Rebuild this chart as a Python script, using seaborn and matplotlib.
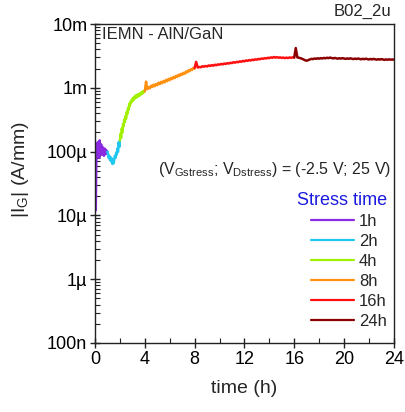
import numpy as np
import pandas as pd
import seaborn as sns
import matplotlib.pyplot as plt
from matplotlib.ticker import LogLocator, NullFormatter, FixedLocator

# =============== DADOS ===============
stress_labels = ["1h", "2h", "4h", "8h", "16h", "24h"]
stress_colors = ["#8a2be2", "#20c8f0", "#a0f000", "#ff9010", "#ff1010", "#8b0000"]

# tempos de amostragem (h)
t_1h = np.linspace(0.06, 1, 25)
t_2h = np.linspace(1, 2, 21)
t_4h = np.linspace(2, 4, 41)
t_8h = np.linspace(4, 8, 41)
t_16h = np.linspace(8, 16, 65)
t_24h = np.linspace(16, 24, 65)

# corrente de grille |IG| (A/mm)
ig_1h = np.array([12, 60, 115, 85, 140, 95, 125, 80, 150, 100, 88, 130, 105, 92, 118,
                  90, 104, 86, 112, 95, 108, 92, 104, 96, 100]) * 1e-6
ig_2h = np.array([100, 90, 80, 86, 74, 82, 70, 78, 64, 72, 66, 76, 86, 80, 96, 90, 112,
                  100, 140, 118, 150]) * 1e-6
ig_4h = np.array([150, 190, 165, 230, 200, 270, 250, 320, 290, 360, 330, 420, 390, 480,
                  450, 560, 520, 610, 580, 650, 620, 690, 640, 720, 680, 750, 700, 770,
                  720, 790, 740, 800, 760, 830, 790, 860, 810, 880, 840, 900, 880]) * 1e-6
ig_8h = np.array([0.88, 1.25, 0.95, 1.02, 0.98, 1.08, 1.03, 1.12, 1.06, 1.15, 1.10, 1.20,
                  1.14, 1.24, 1.18, 1.28, 1.22, 1.33, 1.27, 1.38, 1.32, 1.43, 1.37, 1.48,
                  1.42, 1.54, 1.48, 1.60, 1.54, 1.66, 1.60, 1.72, 1.66, 1.80, 1.74, 1.88,
                  1.82, 1.96, 1.90, 2.05, 2.00]) * 1e-3
ig_16h = np.array([2.05, 2.55, 2.08, 2.12, 2.10, 2.18, 2.14, 2.20, 2.16, 2.24, 2.20, 2.27,
                   2.22, 2.30, 2.26, 2.33, 2.30, 2.37, 2.33, 2.40, 2.36, 2.44, 2.40, 2.47,
                   2.44, 2.52, 2.48, 2.55, 2.52, 2.60, 2.56, 2.64, 2.60, 2.68, 2.65, 2.72,
                   2.68, 2.76, 2.72, 2.80, 2.76, 2.84, 2.80, 2.88, 2.85, 2.92, 2.88, 2.96,
                   2.92, 3.00, 2.96, 3.04, 2.98, 3.02, 2.96, 3.00, 2.94, 2.98, 2.92, 2.97,
                   2.93, 2.99, 2.95, 3.00, 2.98]) * 1e-3
ig_24h = np.array([3.00, 4.20, 3.00, 2.96, 2.92, 2.85, 2.78, 2.70, 2.66, 2.72, 2.78, 2.84,
                   2.82, 2.88, 2.85, 2.90, 2.86, 2.92, 2.88, 2.94, 2.90, 2.96, 2.92, 2.98,
                   2.93, 2.89, 2.94, 2.90, 2.86, 2.91, 2.87, 2.92, 2.88, 2.84, 2.89, 2.85,
                   2.90, 2.86, 2.82, 2.87, 2.83, 2.88, 2.84, 2.80, 2.85, 2.81, 2.86, 2.82,
                   2.78, 2.83, 2.79, 2.84, 2.80, 2.76, 2.81, 2.77, 2.82, 2.78, 2.74, 2.79,
                   2.75, 2.80, 2.76, 2.78, 2.76]) * 1e-3

y_ticks = [1e-7, 1e-6, 1e-5, 1e-4, 1e-3, 1e-2]
y_ticklabels = ["100n", "1µ", "10µ", "100µ", "1m", "10m"]
x_ticks = [0, 4, 8, 12, 16, 20, 24]

# =============== MONTAGEM ===============
frames = []
for lab, t, v in zip(stress_labels, [t_1h, t_2h, t_4h, t_8h, t_16h, t_24h],
                     [ig_1h, ig_2h, ig_4h, ig_8h, ig_16h, ig_24h]):
    frames.append(pd.DataFrame({"time": t, "ig": v, "stress": lab}))
df = pd.concat(frames, ignore_index=True)

sns.set_theme(style="ticks")
plt.rcParams["font.family"] = ["Liberation Sans", "DejaVu Sans"]
plt.rcParams["mathtext.fontset"] = "custom"
plt.rcParams["mathtext.rm"] = "Liberation Sans"

fig = plt.figure(figsize=(4.06, 4.12), dpi=100)
ax = fig.add_axes([0.234, 0.1675, 0.736, 0.7742])

sns.lineplot(data=df, x="time", y="ig", hue="stress", hue_order=stress_labels,
             palette=dict(zip(stress_labels, stress_colors)), estimator=None, sort=False,
             linewidth=1.8, ax=ax)

ax.set_yscale("log")
ax.set_ylim(1e-7, 1e-2)
ax.set_xlim(0, 24)
ax.yaxis.set_major_locator(FixedLocator(y_ticks))
ax.set_yticklabels(y_ticklabels)
ax.yaxis.set_minor_locator(LogLocator(base=10, subs=np.arange(2, 10), numticks=20))
ax.yaxis.set_minor_formatter(NullFormatter())
ax.set_xticks(x_ticks)
ax.set_xticks([2, 6, 10, 14, 18, 22], minor=True)

ax.tick_params(axis="both", which="major", direction="inout", length=7, width=1,
               labelsize=13, color="#222222", labelcolor="black", pad=2)
ax.tick_params(axis="both", which="minor", direction="in", length=3.5, width=0.8,
               color="#222222")
for sp in ax.spines.values():
    sp.set_color("#222222")
    sp.set_linewidth(1)

ax.set_xlabel("time (h)", fontsize=14, labelpad=9)
ax.set_ylabel(r"|I$_{\mathrm{G}}$| (A/mm)", fontsize=14)
ax.yaxis.set_label_coords(-0.215, 0.545)

# textos
fig.text(0.965, 0.972, "B02_2u", ha="right", va="center", fontsize=12)
ax.text(0.022, 0.99, "IEMN - AlN/GaN", transform=ax.transAxes, ha="left", va="top",
        fontsize=12)
ax.text(0.99, 0.545, r"(V$_{\mathrm{Gstress}}$; V$_{\mathrm{Dstress}}$) = (-2.5 V; 25 V)",
        transform=ax.transAxes, ha="right", va="center", fontsize=11.5)

leg = ax.legend(title="Stress time", loc="upper right", bbox_to_anchor=(1.01, 0.505),
                frameon=False, fontsize=12, title_fontsize=13, handlelength=2.6,
                handletextpad=0.3, labelspacing=0.3, alignment="right",
                borderaxespad=0.2)
leg.get_title().set_color("#1a1ae0")
for ln in leg.get_lines():
    ln.set_linewidth(1.6)

plt.savefig("out.png", dpi=100)
plt.close()
